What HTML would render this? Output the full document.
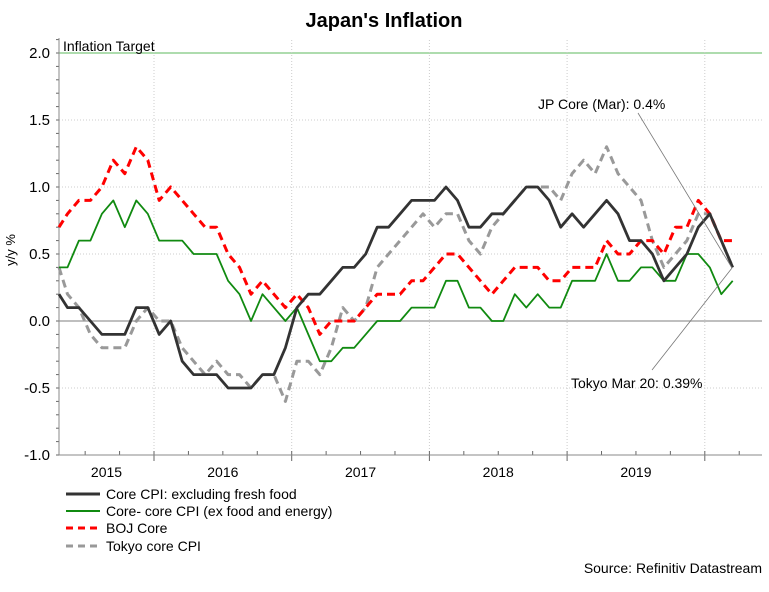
<!DOCTYPE html>
<html><head><meta charset="utf-8"><style>
body{margin:0;background:#fff;font-family:"Liberation Sans",Arial,sans-serif}
svg text{font-family:"Liberation Sans",Arial,sans-serif}
</style></head><body>
<svg id="chart" width="769" height="587" viewBox="0 0 769 587">
<text x="384" y="27" text-anchor="middle" font-size="20" font-weight="bold">Japan's Inflation</text>
<g id="grid"></g><g id="axes"></g><g id="series"></g>
<text x="63" y="51" font-size="14">Inflation Target</text>
<text transform="translate(15,250) rotate(-90)" text-anchor="middle" font-size="13">y/y %</text>
<line x1="638" y1="113" x2="732" y2="268" stroke="#777" stroke-width="0.8"/>
<text x="538" y="109" font-size="14">JP Core (Mar): 0.4%</text>
<line x1="652" y1="370" x2="732" y2="268" stroke="#777" stroke-width="0.8"/>
<text x="571" y="388" font-size="14">Tokyo Mar 20: 0.39%</text>
<g>
<line x1="66" y1="494" x2="100" y2="494" stroke="#333" stroke-width="3"/><text x="106" y="499" font-size="14">Core CPI: excluding fresh food</text>
<line x1="66" y1="511" x2="100" y2="511" stroke="#108a10" stroke-width="2"/><text x="106" y="516" font-size="14">Core- core CPI (ex food and energy)</text>
<line x1="66" y1="528" x2="100" y2="528" stroke="#f00" stroke-width="3" stroke-dasharray="7,5"/><text x="106" y="533" font-size="14">BOJ Core</text>
<line x1="66" y1="546" x2="100" y2="546" stroke="#999" stroke-width="3" stroke-dasharray="7,5"/><text x="106" y="551" font-size="14">Tokyo core CPI</text>
</g>
<text x="762" y="573" text-anchor="end" font-size="14">Source: Refinitiv Datastream</text>
</svg>
<script>
const yTicks=[2.0,1.5,1.0,0.5,0.0,-0.5,-1.0];
const yearLabels=["2015","2016","2017","2018","2019"];
const coreCPI=[0.2,0.1,0.1,0.0,-0.1,-0.1,-0.1,0.1,0.1,-0.1,0.0,-0.3,-0.4,-0.4,-0.4,-0.5,-0.5,-0.5,-0.4,-0.4,-0.2,0.1,0.2,0.2,0.3,0.4,0.4,0.5,0.7,0.7,0.8,0.9,0.9,0.9,1.0,0.9,0.7,0.7,0.8,0.8,0.9,1.0,1.0,0.9,0.7,0.8,0.7,0.8,0.9,0.8,0.6,0.6,0.5,0.3,0.4,0.5,0.7,0.8,0.6,0.4];
const coreCore=[0.4,0.4,0.6,0.6,0.8,0.9,0.7,0.9,0.8,0.6,0.6,0.6,0.5,0.5,0.5,0.3,0.2,0.0,0.2,0.1,0.0,0.1,-0.1,-0.3,-0.3,-0.2,-0.2,-0.1,0.0,0.0,0.0,0.1,0.1,0.1,0.3,0.3,0.1,0.1,0.0,0.0,0.2,0.1,0.2,0.1,0.1,0.3,0.3,0.3,0.5,0.3,0.3,0.4,0.4,0.3,0.3,0.5,0.5,0.4,0.2,0.3];
const bojCore=[0.7,0.8,0.9,0.9,1.0,1.2,1.1,1.3,1.2,0.9,1.0,0.9,0.8,0.7,0.7,0.5,0.4,0.2,0.3,0.2,0.1,0.2,0.1,-0.1,0.0,0.0,0.0,0.1,0.2,0.2,0.2,0.3,0.3,0.4,0.5,0.5,0.4,0.3,0.2,0.3,0.4,0.4,0.4,0.3,0.3,0.4,0.4,0.4,0.6,0.5,0.5,0.6,0.6,0.5,0.7,0.7,0.9,0.8,0.6,0.6];
const tokyoCore=[0.4,0.2,0.1,-0.1,-0.2,-0.2,-0.2,0.0,0.1,0.0,0.0,-0.2,-0.3,-0.4,-0.3,-0.4,-0.4,-0.5,-0.4,-0.4,-0.6,-0.3,-0.3,-0.4,-0.2,0.1,0.0,0.1,0.4,0.5,0.6,0.7,0.8,0.7,0.8,0.8,0.6,0.5,0.7,0.8,0.9,1.0,1.0,1.0,0.9,1.1,1.2,1.1,1.3,1.1,1.0,0.9,0.6,0.4,0.5,0.6,0.8,0.8,0.6,0.4];
const NS="http://www.w3.org/2000/svg";
const L=59,R=762;
function y(v){return 321-134*v;}
function x(k){return 56+11.47*k;}
function yearX(i){return 154+137.7*(i-1);} // i=1 -> 2016 boundary
function mk(tag,attrs,parent){const e=document.createElementNS(NS,tag);for(const a in attrs)e.setAttribute(a,attrs[a]);parent.appendChild(e);return e;}
const grid=document.getElementById('grid'),axes=document.getElementById('axes'),ser=document.getElementById('series');
yTicks.forEach(v=>{
  let ln;
  if(v===2.0) ln=mk('line',{x1:L,x2:R,y1:y(v),y2:y(v),stroke:'#5cb85c','stroke-width':1},grid);
  else if(v===0) ln=mk('line',{x1:L,x2:R,y1:y(v),y2:y(v),stroke:'#aaa','stroke-width':1.5},grid);
  else if(v>-1) ln=mk('line',{x1:L,x2:R,y1:y(v),y2:y(v),stroke:'#ccc','stroke-width':1,'stroke-dasharray':'1,2'},grid);
  if(ln){}
  const t=mk('text',{x:50,y:y(v)+5,'text-anchor':'end','font-size':15},axes);t.textContent=v.toFixed(1);
  
  
});
for(let i=-10;i<=21;i++){const v=i/10;mk('line',{x1:L-3,x2:L,y1:y(v),y2:y(v),stroke:'#666'},axes);}
for(let i=1;i<=5;i++){
  const g=mk('line',{x1:yearX(i),x2:yearX(i),y1:40,y2:455,stroke:'#ccc','stroke-dasharray':'1,2'},grid);
  
  
  mk('line',{x1:yearX(i),x2:yearX(i),y1:455,y2:461,stroke:'#666'},axes);
}
for(let q=-3;q<=17;q++){const xx=154+137.7*q/4;if(xx>L&&xx<R)mk('line',{x1:xx,x2:xx,y1:451,y2:455,stroke:'#666'},axes);}
yearLabels.forEach((lb,i)=>{const cx=(Math.max(L,yearX(i))+Math.min(R,yearX(i+1)))/2;
  const t=mk('text',{x:cx,y:477,'text-anchor':'middle','font-size':14},axes);t.textContent=lb;
  
  });
mk('line',{x1:L,x2:L,y1:38,y2:455,stroke:'#888'},axes);
mk('line',{x1:L,x2:R,y1:455,y2:455,stroke:'#888'},axes);
function path(d,col,w,dash,name){
  const p=mk('polyline',{points:d.map((v,k)=>Math.max(L,x(k)).toFixed(1)+','+y(v).toFixed(1)).join(' '),fill:'none',stroke:col,'stroke-width':w,'stroke-linejoin':'round'},ser);
  if(dash)p.setAttribute('stroke-dasharray',dash);
  
  
}
path(tokyoCore,'#999',3,'8,5','series-tokyo-core');
path(coreCore,'#108a10',1.8,null,'series-core-core');
path(bojCore,'#f00',3,'8,5','series-boj-core');
path(coreCPI,'#333',2.8,null,'series-core-cpi');
</script>
</body></html>
